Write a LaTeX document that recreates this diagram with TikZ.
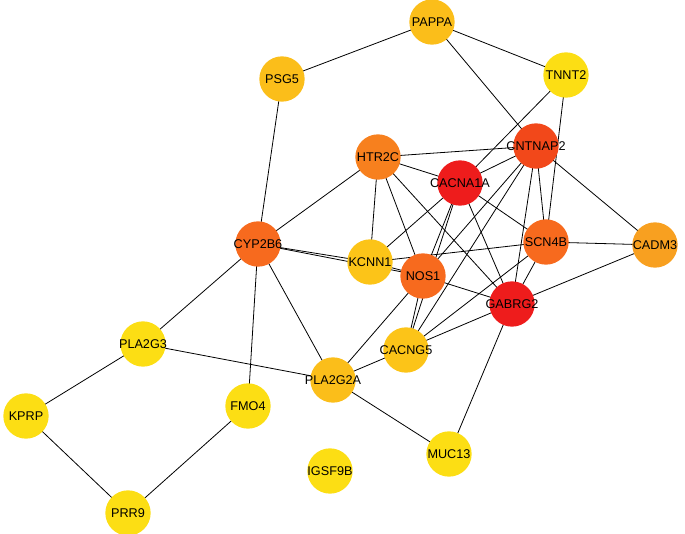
\documentclass[tikz,border=0pt]{standalone}
\usepackage{fontspec}
\setmainfont{Liberation Sans}
\begin{document}
\begin{tikzpicture}[x=0.75pt,y=-0.75pt,
  g/.style={circle,minimum size=34pt,inner sep=0pt,label={[font=\fontsize{9.5}{10}\selectfont]center:#1}},
  e/.style={draw=black,line width=0.6pt}]
\useasboundingbox (0,0) rectangle (685,534);
\definecolor{cr}{HTML}{EE1C1C}\definecolor{co1}{HTML}{F2481A}\definecolor{co2}{HTML}{F76A1E}
\definecolor{co3}{HTML}{F7801E}\definecolor{co4}{HTML}{F8A020}\definecolor{cy1}{HTML}{FBBE1A}
\definecolor{cy2}{HTML}{FCC418}\definecolor{cy3}{HTML}{FCDE14}
\foreach \n/\x/\y in {PAPPA/432/22,TNNT2/566/75,PSG5/282/79,CNTNAP2/536/146,
 HTR2C/378/157,CACNA1A/460/183,CYP2B6/258/244,KCNN1/370/262,SCN4B/546/242,
 CADM3/655/245,NOS1/423/276,GABRG2/512/304,PLA2G3/143/344,CACNG5/406/350,
 PLA2G2A/333/380,FMO4/248/406,KPRP/26/416,MUC13/449/454,IGSF9B/330/471,PRR9/128/513}
 \coordinate (\n) at (\x,\y);
\foreach \a/\b in {PAPPA/PSG5,PAPPA/TNNT2,PAPPA/CNTNAP2,TNNT2/CACNA1A,TNNT2/SCN4B,PSG5/CYP2B6,
 CNTNAP2/HTR2C,CNTNAP2/CACNA1A,CNTNAP2/CADM3,CNTNAP2/SCN4B,CNTNAP2/GABRG2,CNTNAP2/NOS1,CNTNAP2/CACNG5,
 HTR2C/CYP2B6,HTR2C/KCNN1,HTR2C/NOS1,HTR2C/GABRG2,HTR2C/CACNA1A,CACNA1A/KCNN1,CACNA1A/NOS1,CACNA1A/CACNG5,
 CACNA1A/SCN4B,CACNA1A/GABRG2,CYP2B6/KCNN1,CYP2B6/NOS1,KCNN1/NOS1,CYP2B6/PLA2G3,CYP2B6/FMO4,CYP2B6/PLA2G2A,KCNN1/SCN4B,
 SCN4B/CADM3,NOS1/GABRG2,GABRG2/CADM3,SCN4B/CACNG5,SCN4B/GABRG2,NOS1/PLA2G2A,NOS1/CACNG5,
 GABRG2/MUC13,PLA2G2A/GABRG2,PLA2G3/PLA2G2A,PLA2G3/KPRP,KPRP/PRR9,PRR9/FMO4,PLA2G2A/MUC13}
 \draw[e] (\a) -- (\b);
\foreach \n/\c in {PAPPA/cy1,TNNT2/cy3,PSG5/cy1,CNTNAP2/co1,
 HTR2C/co3,CACNA1A/cr,CYP2B6/co2,KCNN1/cy2,SCN4B/co2,
 CADM3/co4,NOS1/co2,GABRG2/cr,PLA2G3/cy3,CACNG5/cy2,
 PLA2G2A/cy1,FMO4/cy3,KPRP/cy3,MUC13/cy3,IGSF9B/cy3,PRR9/cy3}
 \node[g=\n,fill=\c] (n\n) at (\n) {};
\end{tikzpicture}
\end{document}
